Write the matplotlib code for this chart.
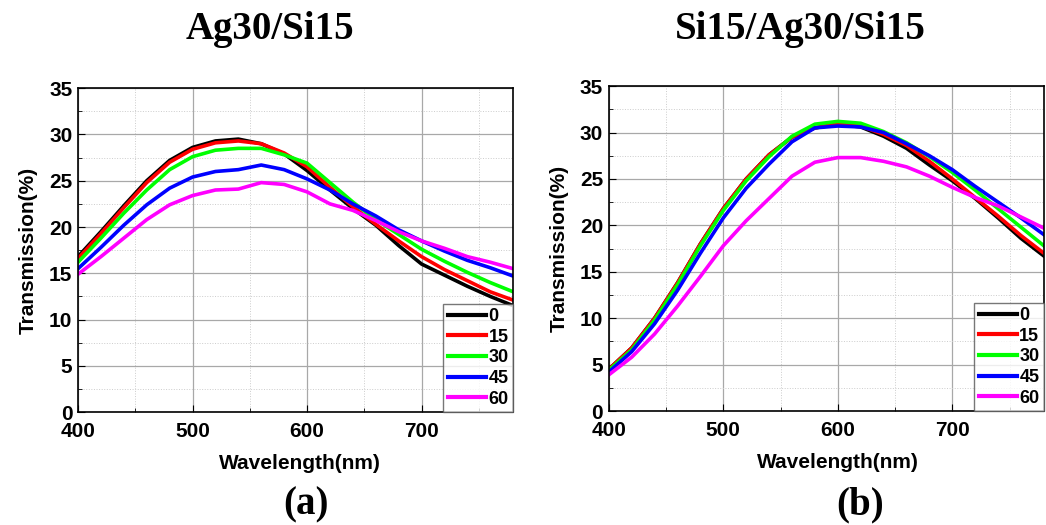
import matplotlib
matplotlib.use("Agg")
import matplotlib.pyplot as plt
from matplotlib.ticker import MultipleLocator

# wavelength grid (nm) read every 20 nm from the picture
wavelength = [400, 420, 440, 460, 480, 500, 520, 540, 560, 580,
              600, 620, 640, 660, 680, 700, 720, 740, 760, 780]
angles = ["0", "15", "30", "45", "60"]
colors = ["#000000", "#ff0000", "#00ff00", "#0000ff", "#ff00ff"]

# (a) Ag30/Si15
a_0 = [16.8, 19.5, 22.3, 25.0, 27.2, 28.6, 29.3, 29.5, 29.0, 27.9,
       26.1, 24.0, 22.0, 20.2, 18.0, 16.0, 14.8, 13.6, 12.5, 11.5]
a_15 = [16.6, 19.3, 22.1, 24.8, 27.0, 28.4, 29.1, 29.3, 29.0, 28.0,
        26.5, 24.3, 22.2, 20.3, 18.5, 16.8, 15.4, 14.2, 13.0, 12.1]
a_30 = [16.2, 18.8, 21.5, 24.0, 26.2, 27.6, 28.3, 28.5, 28.5, 27.8,
        26.9, 24.8, 22.7, 20.8, 19.2, 17.6, 16.3, 15.1, 14.0, 13.0]
a_45 = [15.5, 17.8, 20.2, 22.4, 24.2, 25.4, 26.0, 26.2, 26.7, 26.2,
        25.2, 24.0, 22.5, 21.2, 19.7, 18.5, 17.4, 16.4, 15.6, 14.7]
a_60 = [14.9, 16.8, 18.8, 20.8, 22.4, 23.4, 24.0, 24.1, 24.8, 24.6,
        23.8, 22.5, 21.8, 20.7, 19.5, 18.5, 17.7, 16.8, 16.2, 15.5]

# (b) Si15/Ag30/Si15
b_0 = [4.5, 6.8, 10.0, 13.8, 18.0, 21.8, 25.0, 27.6, 29.5, 30.5,
       30.9, 30.6, 29.6, 28.3, 26.5, 24.8, 22.9, 20.8, 18.6, 16.7]
b_15 = [4.5, 6.8, 10.0, 13.8, 18.0, 21.8, 25.0, 27.6, 29.5, 30.5,
        30.9, 30.7, 29.8, 28.6, 26.9, 25.0, 23.0, 21.0, 18.9, 17.0]
b_30 = [4.4, 6.6, 9.8, 13.6, 17.8, 21.6, 24.8, 27.4, 29.6, 30.9,
        31.2, 31.0, 30.1, 28.9, 27.4, 25.7, 23.8, 21.8, 19.8, 17.8]
b_45 = [4.2, 6.4, 9.4, 13.0, 17.0, 20.8, 24.0, 26.6, 29.0, 30.5,
        30.7, 30.6, 30.0, 28.8, 27.5, 26.0, 24.2, 22.5, 20.8, 19.0]
b_60 = [3.9, 5.8, 8.3, 11.3, 14.5, 17.8, 20.5, 22.9, 25.3, 26.8,
        27.3, 27.3, 26.9, 26.3, 25.3, 24.1, 23.0, 22.1, 20.9, 19.7]

# title, tag, series, axes rect, title x, tag x, xlabel x (axes frac)
panels = [
    ("Ag30/Si15", "(a)", [a_0, a_15, a_30, a_45, a_60],
     [0.0746, 0.215, 0.416, 0.617], 270, 306, 0.51),
    ("Si15/Ag30/Si15", "(b)", [b_0, b_15, b_30, b_45, b_60],
     [0.582, 0.217, 0.416, 0.619], 800, 860, 0.526),
]

plt.rcParams["font.family"] = ["Liberation Sans", "DejaVu Sans"]
plt.rcParams["font.weight"] = "bold"

W = 1046
fig = plt.figure(figsize=(10.46, 5.25), dpi=100)

for title, tag, series, rect, tx, gx, lx in panels:
    ax = fig.add_axes(rect)
    for vals, lab, col in zip(series, angles, colors):
        ax.plot(wavelength, vals, color=col, linewidth=2.6, label=lab)
    ax.set_xlim(400, 780)
    ax.set_ylim(0, 35)
    ax.xaxis.set_major_locator(MultipleLocator(100))
    ax.xaxis.set_minor_locator(MultipleLocator(50))
    ax.yaxis.set_major_locator(MultipleLocator(5))
    ax.yaxis.set_minor_locator(MultipleLocator(2.5))
    ax.grid(which="major", color="#a8a8a8", linewidth=0.9)
    ax.grid(which="minor", color="#cccccc", linewidth=0.7, linestyle=":")
    ax.tick_params(which="both", direction="in", labelsize=15)
    ax.tick_params(axis="x", pad=7)
    ax.tick_params(axis="y", pad=4)
    ax.tick_params(which="major", length=5)
    ax.tick_params(which="minor", length=3)
    for s in ax.spines.values():
        s.set_linewidth(1.2)
    ax.set_xlabel("Wavelength(nm)", fontsize=15, fontweight="bold", labelpad=6)
    ax.set_ylabel("Transmission(%)", fontsize=15, fontweight="bold", labelpad=8)
    ax.xaxis.set_label_coords(lx, -0.13)
    leg = ax.legend(loc="lower right", fontsize=13, frameon=True, fancybox=False,
                    handlelength=2.1, handletextpad=0.15, labelspacing=0.2,
                    borderpad=0.25, borderaxespad=0.0)
    leg.get_frame().set_edgecolor("#555555")
    leg.get_frame().set_linewidth(1.0)
    for h in leg.get_lines():
        h.set_linewidth(3.0)
    fig.text(tx / W, 1 - 30 / 525, title, ha="center", va="center", fontsize=28,
             fontweight="bold", family="Liberation Serif")
    fig.text(gx / W, 1 - 505 / 525, tag, ha="center", va="center", fontsize=28,
             fontweight="bold", family="Liberation Serif")

fig.savefig("out.png", dpi=100)
